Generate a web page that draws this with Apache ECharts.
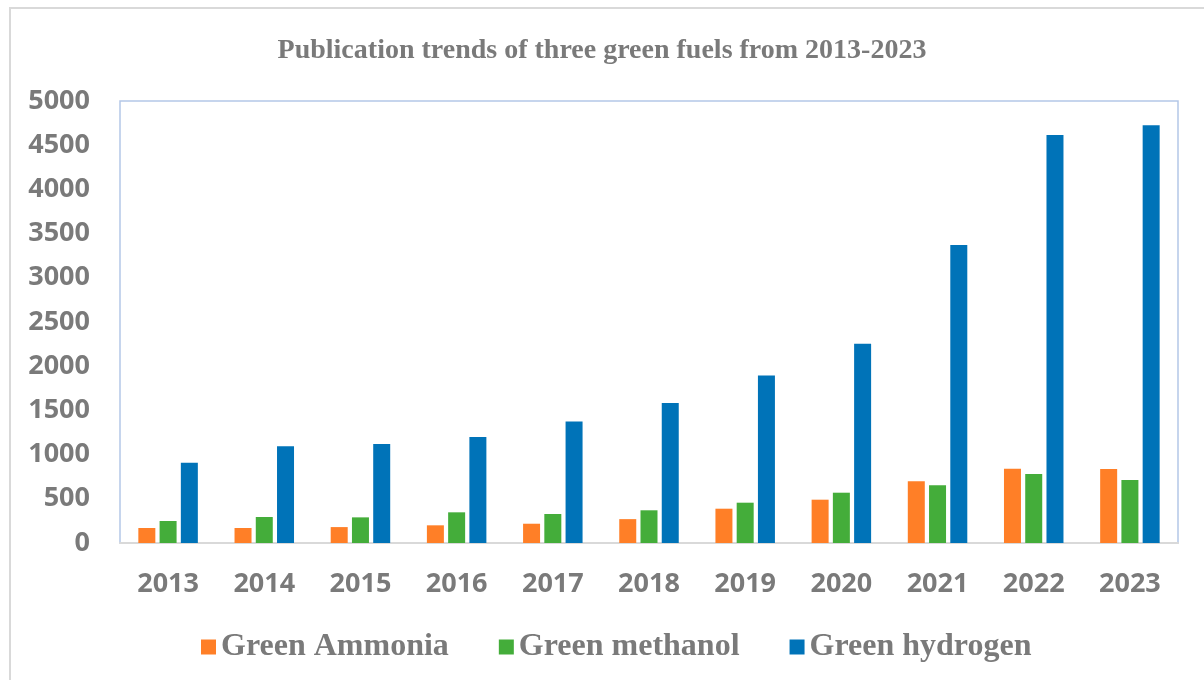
<!DOCTYPE html>
<html>
<head>
<meta charset="utf-8">
<style>html,body{margin:0;padding:0;background:#fff;}#c{width:1204px;height:680px;}</style>
<script src="https://cdn.jsdelivr.net/npm/echarts@6/dist/echarts.min.js"></script>
</head>
<body>
<div id="c"></div>
<script>
const years = ['2013','2014','2015','2016','2017','2018','2019','2020','2021','2022','2023'];
const ammonia = [170, 170, 180, 200, 218, 270, 388, 490, 698, 840, 837];
const methanol = [249, 294, 290, 347, 328, 370, 456, 569, 652, 780, 712];
const hydrogen = [908, 1095, 1120, 1200, 1375, 1585, 1895, 2255, 3370, 4615, 4725];
const seriesNames = ['Green Ammonia', 'Green methanol', 'Green hydrogen'];
const colors = ['#FF7F27', '#44AD3A', '#0073B8'];

const chart = echarts.init(document.getElementById('c'), null, {renderer: 'canvas'});
const gray = '#7a7a7a';
const mk = (i, data) => ({
  name: seriesNames[i], type: 'bar', data: data,
  barWidth: 17, barGap: '25%',
  itemStyle: {color: colors[i]}
});
chart.setOption({
  animation: false,
  title: {
    text: 'Publication trends of three green fuels from 2013-2023',
    left: 'center', top: 32,
    textStyle: {fontFamily: 'Liberation Serif', fontWeight: 'bold', fontSize: 28, color: gray}
  },
  graphic: [{
    type: 'rect', shape: {x: 10, y: 8, width: 1300, height: 800},
    style: {fill: 'none', stroke: '#d9d9d9', lineWidth: 2}, silent: true
  }],
  grid: {left: 120, right: 26, top: 101, bottom: 137, show: true, borderColor: '#b4c7e7', borderWidth: 1.5, backgroundColor: 'transparent'},
  legend: {
    bottom: 12, left: 196, itemWidth: 15, itemHeight: 15, itemGap: 50,
    icon: 'rect',
    textStyle: {fontFamily: 'Liberation Serif', fontWeight: 'bold', fontSize: 32, color: gray}
  },
  xAxis: {
    type: 'category', data: years,
    axisLine: {show: true, lineStyle: {color: '#d9d9d9', width: 2}},
    axisTick: {show: false},
    axisLabel: {margin: 28, fontFamily: 'Open Sans', fontWeight: 'bold', fontSize: 27, color: gray}
  },
  yAxis: {
    type: 'value', min: 0, max: 5000, interval: 500,
    axisLine: {show: false}, axisTick: {show: false}, splitLine: {show: false},
    axisLabel: {margin: 30, fontFamily: 'Open Sans', fontWeight: 'bold', fontSize: 27, color: gray,
      formatter: v => String(v)}
  },
  series: [mk(0, ammonia), mk(1, methanol), mk(2, hydrogen)]
});
</script>
</body>
</html>
